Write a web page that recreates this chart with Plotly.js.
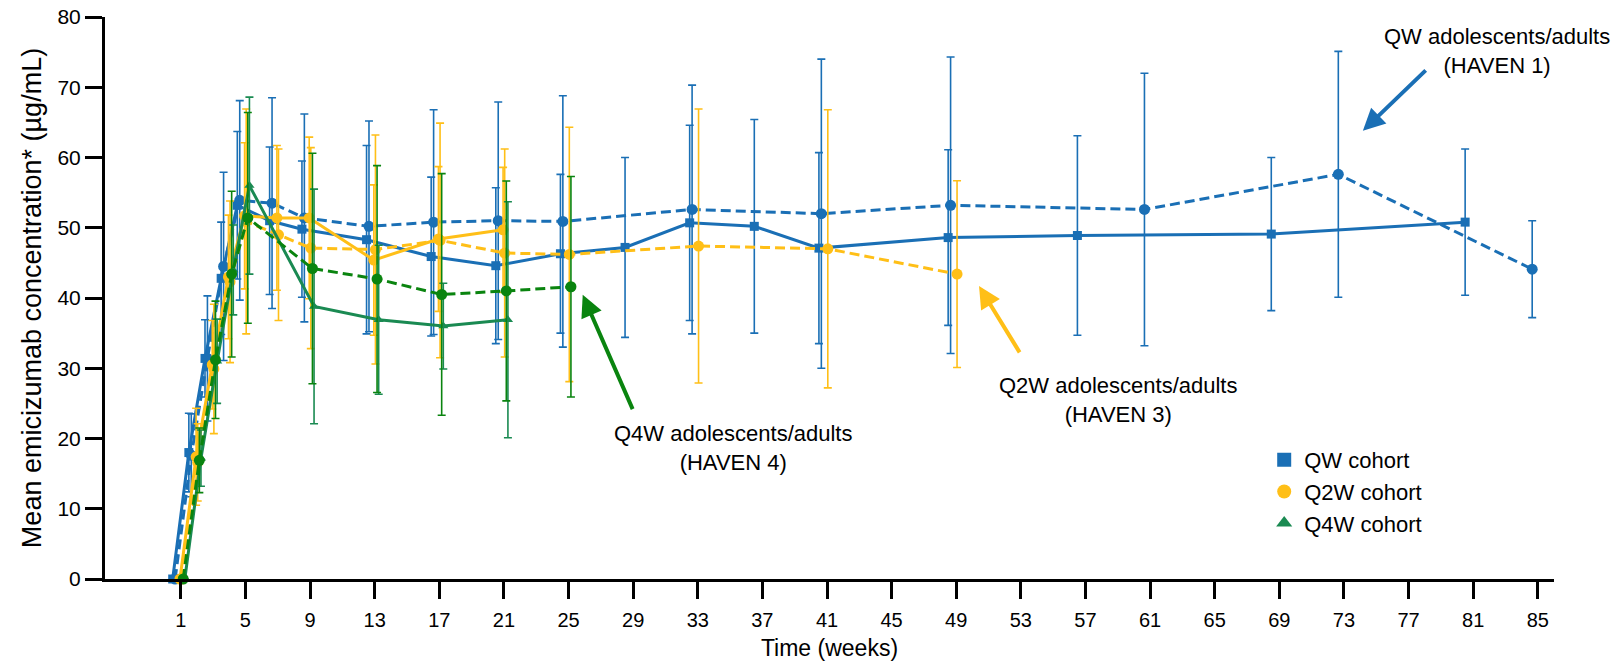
<!DOCTYPE html>
<html>
<head>
<meta charset="utf-8">
<script src="https://cdn.plot.ly/plotly-3.0.1.min.js"></script>
<style>html,body{margin:0;padding:0;background:#fff;}#chart{width:1624px;height:669px;}</style>
</head>
<body>
<div id="chart"></div>
<script>
// ---------- DATA ----------
const xTickVals = [1,5,9,13,17,21,25,29,33,37,41,45,49,53,57,61,65,69,73,77,81,85];

// QW cohort (solid, squares)
const qwWeeks  = [1,2,3,4,5,7,9,13,17,21,25,29,33,37,41,49,57,69,81];
const qwMean   = [0,18.0,31.4,42.8,53.2,51.0,49.8,48.3,45.9,44.6,46.3,47.2,50.7,50.2,47.1,48.6,48.9,49.1,50.8];
const qwSD     = [0,5.6,5.5,8.0,10.5,10.5,9.7,13.4,11.3,11.1,11.3,12.8,13.9,15.2,13.6,12.5,14.2,10.9,10.4];

// QW adolescents/adults HAVEN 1 (dashed, circles)
const h1Weeks  = [1,2,3,4,5,7,9,13,17,21,25,33,41,49,61,73,85];
const h1Mean   = [0,17.6,31.4,44.5,53.9,53.5,51.4,50.2,50.8,51.0,50.9,52.6,52.0,53.2,52.6,57.6,44.1];
const h1SD     = [0,5.9,8.9,13.4,14.2,15.0,14.8,15.0,16.0,16.9,17.9,17.7,22.0,21.1,19.4,17.5,6.9];

// Q2W cohort (solid, circles)
const q2wWeeks = [1,2,3,4,5,7,9,13,17,21];
const q2wMean  = [0,17.4,30.5,43.0,51.7,51.4,51.4,45.4,48.4,49.7];
const q2wSD    = [0,6.9,6.3,8.8,10.4,10.3,11.5,10.7,10.3,8.9];

// Q2W adolescents/adults HAVEN 3 (dashed, circles)
const h3Weeks  = [1,2,3,4,5,7,9,13,17,21,25,33,41,49];
const h3Mean   = [0,16.6,29.9,42.3,50.9,49.0,47.1,46.9,48.2,46.4,46.2,47.4,47.0,43.4];
const h3SD     = [0,5.5,9.2,11.5,16.0,12.2,14.3,16.3,16.7,14.8,18.1,19.5,19.8,13.3];

// Q4W cohort (solid, triangles)
const q4wWeeks = [1,2,3,4,5,9,13,17,21];
const q4wMean  = [0,17.2,31.0,44.0,56.0,38.8,36.9,36.0,36.9];
const q4wSD    = [0,4.0,6.0,6.4,12.6,16.7,10.6,6.1,16.8];

// Q4W adolescents/adults HAVEN 4 (dashed, circles)
const h4Weeks  = [1,2,3,4,5,9,13,17,21,25];
const h4Mean   = [0,16.9,31.2,43.4,51.4,44.2,42.7,40.5,41.0,41.6];
const h4SD     = [0,4.6,8.35,11.8,15.0,16.4,16.15,17.2,15.65,15.7];

const legendNames = ['QW cohort','Q2W cohort','Q4W cohort'];

// ---------- STYLE ----------
const BLUE = '#1a6fb5', YELLOW = '#ffbf17', GREEN_D = '#0a840f', GREEN_S = '#1a8a52';
const FONT = 'Liberation Sans, Arial, sans-serif';

function series(weeks, mean, sd, dodge, color, dash, symbol, msize){
  return {
    x: weeks.map(w => w + dodge), y: mean, type: 'scatter', mode: 'lines+markers',
    line: {color: color, width: 3, dash: dash},
    marker: {color: color, symbol: symbol, size: msize},
    error_y: {type: 'data', array: sd, visible: true, color: color, thickness: 1.6, width: 4},
    showlegend: false, cliponaxis: false, hoverinfo: 'x+y'
  };
}
const DASH = '10px,5px';
const traces = [
  series(qwWeeks, qwMean, qwSD, -0.5, BLUE, 'solid', 'square', 9),
  series(h1Weeks, h1Mean, h1SD, -0.35, BLUE, DASH, 'circle', 11),
  series(q2wWeeks, q2wMean, q2wSD, -0.05, YELLOW, 'solid', 'circle', 11),
  series(h3Weeks, h3Mean, h3SD, 0.05, YELLOW, DASH, 'circle', 11),
  series(q4wWeeks, q4wMean, q4wSD, 0.25, GREEN_S, 'solid', 'triangle-up', 9),
  series(h4Weeks, h4Mean, h4SD, 0.15, GREEN_D, DASH, 'circle', 11)
];
// legend-only entries (markers only)
const legSyms = ['square','circle','triangle-up'];
const legCols = [BLUE, YELLOW, GREEN_S];
legendNames.forEach((n,i) => traces.push({
  x:[null], y:[null], type:'scatter', mode:'markers', name:n,
  marker:{color:legCols[i], symbol:legSyms[i], size:14}, showlegend:true, hoverinfo:'skip'
}));

function arrow(hx, hy, tx, ty, color){
  return {x: hx, y: hy, ax: tx, ay: ty, xref:'x', yref:'y', axref:'x', ayref:'y',
    text:'', showarrow:true, arrowhead:2, arrowsize:1.1, arrowwidth:4, arrowcolor:color, standoff:0, startstandoff:0};
}
function label(x, y, txt){
  return {x:x, y:y, xref:'x', yref:'y', text:txt, showarrow:false,
    font:{family:FONT, size:22, color:'#000'}, align:'center', xanchor:'center', yanchor:'middle'};
}

const layout = {
  width: 1624, height: 669,
  margin: {l:105, r:70, t:17, b:90},
  paper_bgcolor:'#fff', plot_bgcolor:'#fff',
  font: {family: FONT, color:'#000'},
  xaxis: {
    range: [-3.69, 86], tickvals: xTickVals, ticktext: xTickVals.map(String),
    ticks:'outside', ticklen:17, tickwidth:3, tickcolor:'#000',
    showline:true, linewidth:3, linecolor:'#000', showgrid:false, zeroline:false,
    tickfont:{size:20, family:FONT}, ticklabelstandoff: 4,
    title:{text:'Time (weeks)', font:{size:23, family:FONT}, standoff: 10}
  },
  yaxis: {
    range: [0, 80], dtick: 10, tick0: 0,
    ticks:'outside', ticklen:17, tickwidth:3, tickcolor:'#000',
    showline:true, linewidth:3, linecolor:'#000', showgrid:false, zeroline:false,
    tickfont:{size:21, family:FONT},
    title:{text:'Mean emicizumab concentration* (µg/mL)', font:{size:27, family:FONT}, standoff: 8}
  },
  legend: {x:0.80, y:0.249, xanchor:'left', yanchor:'top', font:{size:22, family:FONT}, bgcolor:'rgba(0,0,0,0)', tracegroupgap:0, itemwidth:30},
  annotations: [
    arrow(74.17, 63.8, 78.15, 72.6, BLUE),
    arrow(50.41, 41.7, 52.98, 32.05, YELLOW),
    arrow(25.88, 40.46, 29.01, 23.97, GREEN_D),
    label(82.5, 75.2, 'QW adolescents/adults<br>(HAVEN 1)'),
    label(59.0, 25.5, 'Q2W adolescents/adults<br>(HAVEN 3)'),
    label(35.2, 18.7, 'Q4W adolescents/adults<br>(HAVEN 4)')
  ],
  showlegend: true
};

Plotly.newPlot('chart', traces, layout, {staticPlot:true, displayModeBar:false});
</script>
</body>
</html>
